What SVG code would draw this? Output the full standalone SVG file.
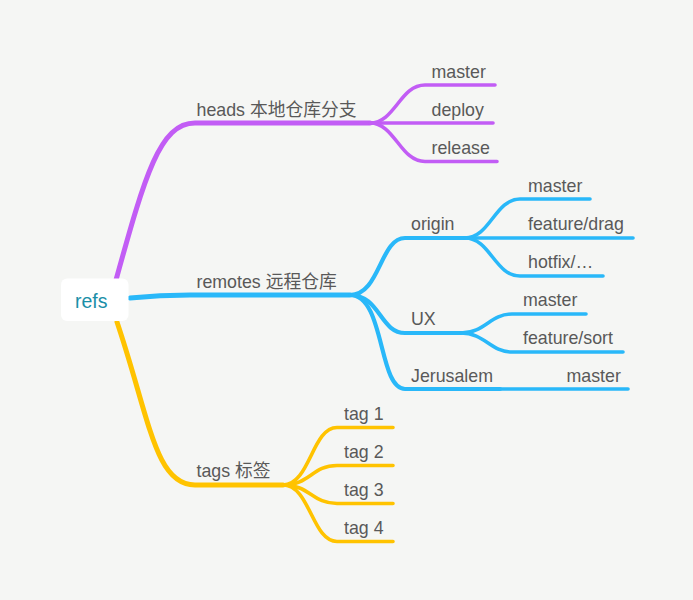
<svg xmlns="http://www.w3.org/2000/svg" width="693" height="600" viewBox="0 0 693 600">
<style>
.bg{fill:#f5f6f4}
.c{fill:none;stroke-linecap:round;stroke-linejoin:round}
.p{stroke:#c25df5}
.b{stroke:#29b8f9}
.y{stroke:#ffc300}
.w1{stroke-width:5}
.w2{stroke-width:4.2}
.w3{stroke-width:3.6}
.t{font-family:"Liberation Sans","Noto Sans CJK SC",Arial,sans-serif;font-size:17.8px;fill:#595959}
.root{font-family:"Liberation Sans",Arial,sans-serif;font-size:19.5px;fill:#1b8fa8}
</style>
<rect class="bg" x="0" y="0" width="693" height="600"/>
<g id="connectors">
<path class="c p w1" d="M116 280 C145 175 160 123 195 123 H370"/>
<path class="c p w3" d="M370 123 C395 123 400 85 425 85 H495"/>
<path class="c p w3" d="M370 123 H493"/>
<path class="c p w3" d="M370 123 C395 123 400 161.5 425 161.5 H497"/>
<path class="c b w1" d="M130 298 C150 296 170 295 190 295 H350"/>
<path class="c b w2" d="M350 295 C380 295 380 238 405 238 H465"/>
<path class="c b w3" d="M465 238 C490 238 495 199 520 199 H590"/>
<path class="c b w3" d="M465 238 H633"/>
<path class="c b w3" d="M465 238 C490 238 495 276 520 276 H603"/>
<path class="c b w2" d="M350 295 C380 295 380 333 405 333 H461"/>
<path class="c b w3" d="M461 333 C485 333 490 314 512 314 H586"/>
<path class="c b w3" d="M461 333 C485 333 490 352 512 352 H623"/>
<path class="c b w2" d="M350 295 C385 295 378 389 405 389 H500"/>
<path class="c b w3" d="M500 389 H628"/>
<path class="c y w1" d="M117 322 C150 420 155 485 195 485 H283"/>
<path class="c y w3" d="M283 485 C310 485 312 427.5 337 427.5 H393"/>
<path class="c y w3" d="M283 485 C310 485 312 465.5 337 465.5 H393"/>
<path class="c y w3" d="M283 485 C310 485 312 503.5 337 503.5 H393"/>
<path class="c y w3" d="M283 485 C310 485 312 541.5 337 541.5 H393"/>
</g>
<g id="refs">
<rect x="61" y="278.5" width="67.5" height="42.5" rx="6" fill="#ffffff"/>
<text class="root" x="75" y="308">refs</text>
</g>
<g id="heads"><text class="t" x="196.5" y="116">heads 本地仓库分支</text></g>
<g id="heads-master"><text class="t" x="431.5" y="77.5">master</text></g>
<g id="heads-deploy"><text class="t" x="431.5" y="115.5">deploy</text></g>
<g id="heads-release"><text class="t" x="431.5" y="153.5">release</text></g>
<g id="remotes"><text class="t" x="196.5" y="287.5">remotes 远程仓库</text></g>
<g id="origin"><text class="t" x="411" y="230">origin</text></g>
<g id="origin-master"><text class="t" x="528" y="191.5">master</text></g>
<g id="origin-feature-drag"><text class="t" x="528" y="230">feature/drag</text></g>
<g id="origin-hotfix"><text class="t" x="528" y="268">hotfix/…</text></g>
<g id="ux"><text class="t" x="411" y="325">UX</text></g>
<g id="ux-master"><text class="t" x="523" y="305.5">master</text></g>
<g id="ux-feature-sort"><text class="t" x="523" y="343.5">feature/sort</text></g>
<g id="jerusalem"><text class="t" x="411" y="381.5">Jerusalem</text></g>
<g id="jerusalem-master"><text class="t" x="566.5" y="381.5">master</text></g>
<g id="tags"><text class="t" x="196.5" y="477">tags 标签</text></g>
<g id="tag1"><text class="t" x="344" y="420">tag 1</text></g>
<g id="tag2"><text class="t" x="344" y="458">tag 2</text></g>
<g id="tag3"><text class="t" x="344" y="496">tag 3</text></g>
<g id="tag4"><text class="t" x="344" y="534">tag 4</text></g>
</svg>
